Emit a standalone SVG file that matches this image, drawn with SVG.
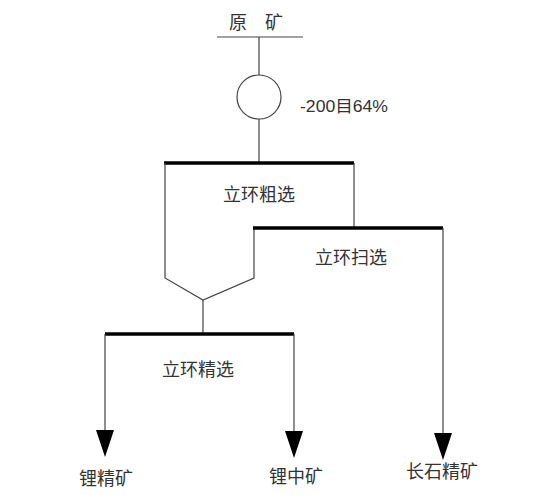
<svg xmlns="http://www.w3.org/2000/svg" width="550" height="495" viewBox="0 0 550 495">
<style>
.ln{stroke:#444;stroke-width:1.2;fill:none}
.bar{stroke:#000;stroke-width:3.5;fill:none}
.t{font-family:"Noto Sans CJK SC","DejaVu Sans",sans-serif;font-size:18px;fill:#333;text-anchor:middle;dominant-baseline:central}
.ah{fill:#000}
</style>
<rect width="550" height="495" fill="#fff"/>
<g id="connectors">
<line class="ln" x1="217" y1="37" x2="303" y2="37"/>
<line class="ln" x1="259" y1="37" x2="259" y2="75"/>
<line class="ln" x1="259" y1="119" x2="259" y2="162"/>
<line class="bar" x1="164" y1="163" x2="354" y2="163"/>
<polyline class="ln" points="165,163 165,278 203,300 254,278 254,228"/>
<line class="ln" x1="354" y1="163" x2="354" y2="228"/>
<line class="bar" x1="253" y1="228" x2="443" y2="228"/>
<line class="ln" x1="203" y1="300" x2="203" y2="334"/>
<line class="bar" x1="105" y1="334" x2="294" y2="334"/>
<line class="ln" x1="105" y1="334" x2="105" y2="432"/>
<line class="ln" x1="294" y1="334" x2="294" y2="432"/>
<line class="ln" x1="443" y1="228" x2="443" y2="434"/>
<polygon class="ah" points="96,430 114,430 105,457"/>
<polygon class="ah" points="285,431 303,431 294,458"/>
<polygon class="ah" points="434,433 452,433 443,460"/>
</g>
<g id="feed"><text class="t" x="256" y="21">原　矿</text></g>
<g id="grind"><circle class="ln" cx="259" cy="97" r="22"/><text class="t" x="300" y="106" textLength="88" lengthAdjust="spacingAndGlyphs" style="text-anchor:start;font-size:16px;font-family:'Liberation Sans','Noto Sans CJK SC',sans-serif">-200目64%</text></g>
<g id="rougher"><text class="t" x="259" y="193">立环粗选</text></g>
<g id="scavenger"><text class="t" x="351" y="256">立环扫选</text></g>
<g id="cleaner"><text class="t" x="198" y="368">立环精选</text></g>
<g id="p1"><text class="t" x="106" y="477">锂精矿</text></g>
<g id="p2"><text class="t" x="296" y="475">锂中矿</text></g>
<g id="p3"><text class="t" x="442" y="470">长石精矿</text></g>
</svg>
